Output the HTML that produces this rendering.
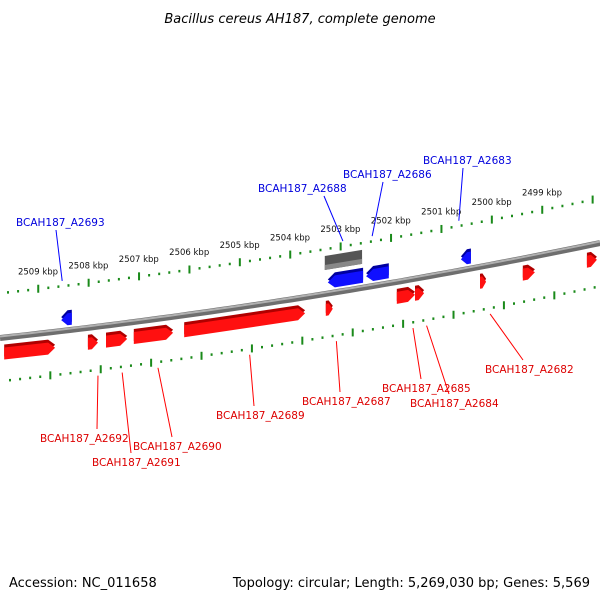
<!DOCTYPE html>
<html><head><meta charset="utf-8"><style>
body{margin:0;background:#fff}
svg text{font-family:"DejaVu Sans","Liberation Sans",sans-serif}
</style></head><body>
<svg id="c" width="600" height="600" viewBox="0 0 600 600">
<text x="300" y="23" text-anchor="middle" font-size="13" font-style="italic">Bacillus cereus AH187, complete genome</text>
<text x="9" y="587" font-size="13">Accession: NC_011658</text>
<text x="590" y="587" text-anchor="end" font-size="13">Topology: circular; Length: 5,269,030 bp; Genes: 5,569</text>
<g id="layer"></g>
</svg>
<script>
const upperTicks=[2509,2508,2507,2506,2505,2504,2503,2502,2501,2500,2499];
const redGenes=[[2509.71,2508.70],[2508.05,2507.85],[2507.69,2507.27],[2507.14,2506.36],[2506.14,2503.74],[2503.33,2503.19],[2501.92,2501.56],[2501.56,2501.38],[2500.27,2500.15],[2499.42,2499.18],[2498.15,2497.95]];
const blueGenes=[[2508.58,2508.37],[2503.29,2502.59],[2502.53,2502.08],[2500.65,2500.45]];
const greyGenes=[[2503.35,2502.61]];
const blueLabels=[["BCAH187_A2693",2508.56],["BCAH187_A2688",2502.99],["BCAH187_A2686",2502.41],["BCAH187_A2683",2500.69]];
const redLabels=[["BCAH187_A2692",2507.85],["BCAH187_A2691",2507.37],["BCAH187_A2690",2506.66],["BCAH187_A2689",2504.84],["BCAH187_A2687",2503.12],["BCAH187_A2685",2501.60],["BCAH187_A2684",2501.33],["BCAH187_A2682",2500.07]];
const ns="http://www.w3.org/2000/svg";
const L=document.getElementById('layer');
function X(k){return (2509.794-k)*50.4;}
function Yb(x){return 338-0.1083*x-0.0000833*x*x;}
function mk(t,a){const e=document.createElementNS(ns,t);for(const k in a)e.setAttribute(k,a[k]);L.appendChild(e);return e;}
// backbone
let d="";for(let x=0;x<=600;x+=10)d+=(x?"L":"M")+x+","+Yb(x).toFixed(1);
let bb=mk('path',{d:d,stroke:'#6e6e6e','stroke-width':6,fill:'none'});


let bb2=mk('path',{d:d,stroke:'#b0b0b0','stroke-width':2,fill:'none',transform:'translate(0,-1.5)'});


// scales
function scale(off,shift,name){
  for(let x=8+shift;x<=600;x+=10.08){
    const y=Yb(x)+off;const major=Math.round((x-8-shift)/10.08)%5===(shift?4:3);
    const e=mk('rect',{x:x-1,y:major?y-4:y-1,width:2,height:major?8:2.5,fill:'#1a8a1a'});
    
    
  }
}
scale(-45,0,'upper-scale');
scale(43,2,'lower-scale');
upperTicks.forEach(k=>{const x=X(k);const t=mk('text',{x:x-2,y:Yb(x)-45-14,'font-size':8.5,'text-anchor':'middle',fill:'#111'});t.textContent=k+" kbp";

});
function gene(s,e,o1,o2,fill,dark,name){
  const x1=X(s),x2=X(e);const dir=x2>x1?1:-1;const a=Math.min(7,Math.abs(x2-x1)*0.6);
  const pts=(dy)=>{const xa=x2-dir*a;const ym=(o1+o2)/2;
    return [[x1,Yb(x1)+o1+dy],[xa,Yb(xa)+o1+dy],[x2,Yb(x2)+ym+dy],[xa,Yb(xa)+o2+dy],[x1,Yb(x1)+o2+dy]].map(p=>p[0].toFixed(1)+","+p[1].toFixed(1)).join(" ");};
  const b=mk('polygon',{points:pts(-3),fill:dark});
  
  
  const g=mk('polygon',{points:pts(0),fill:fill});
  
  
}
redGenes.forEach((g,i)=>gene(g[0],g[1],10,22,'#ff1010','#b00000','red-gene-'+i));
blueGenes.forEach((g,i)=>gene(g[1],g[0],-17,-5,'#1010ff','#0000a0','blue-gene-'+i));
greyGenes.forEach((g,i)=>{const x1=X(g[0]),x2=X(g[1]);const o1=-35,o2=-24;
  const b=mk('polygon',{points:`${x1},${Yb(x1)+o1-3} ${x2},${Yb(x2)+o1-3} ${x2},${Yb(x2)+o2} ${x1},${Yb(x1)+o2}`,fill:'#555'});
  
  
  const h=mk('polygon',{points:`${x1},${Yb(x1)+o2-5} ${x2},${Yb(x2)+o2-5} ${x2},${Yb(x2)+o2} ${x1},${Yb(x1)+o2}`,fill:'#888'});
  
  });
// labels
const bpos=[[16,226],[258,192],[343,178],[423,164]];
blueLabels.forEach((l,i)=>{const x=X(l[1]);const [tx,ty]=bpos[i];
  const ln=mk('line',{x1:i==1?tx+66:tx+40+(i==0?0:0),y1:ty+4,x2:x,y2:Yb(x)-50,stroke:'#0000ff','stroke-width':1});
  
  
  const t=mk('text',{x:tx,y:ty,'font-size':10.5,fill:'#0000dd'});t.textContent=l[0];
  
  });
const rpos=[[40,442,97],[92,466,131],[133,450,172],[216,419,254],[302,405,340],[382,392,421],[410,407,449],[485,373,523]];
redLabels.forEach((l,i)=>{const x=X(l[1]);const [tx,ty,lx]=rpos[i];
  const ln=mk('line',{x1:lx,y1:ty-13,x2:x,y2:Yb(x)+49,stroke:'#ff0000','stroke-width':1});
  
  
  const t=mk('text',{x:tx,y:ty,'font-size':10.5,fill:'#dd0000'});t.textContent=l[0];
  
  });
</script>
</body></html>
